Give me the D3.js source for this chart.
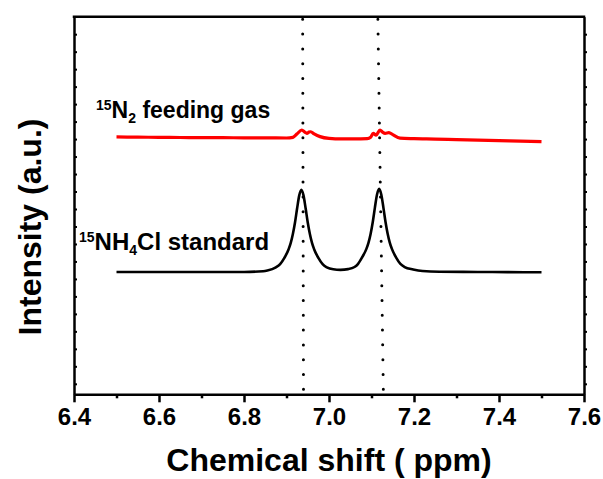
<!DOCTYPE html>
<html>
<head>
<meta charset="utf-8">
<script src="https://cdn.jsdelivr.net/npm/d3@7"></script>
<style>
    body { margin: 0; background: #ffffff; }
    text { font-family: Arial, 'Liberation Sans', sans-serif; font-weight: bold; }
</style>
</head>
<body>
<div id="svg"></div>
<script>
// x axis ticks
var xTicks = [6.4, 6.6, 6.8, 7.0, 7.2, 7.4, 7.6];
var xMinorTicks = [6.5, 6.7, 6.9, 7.1, 7.3, 7.5];

// dotted reference lines (top x, bottom x) in ppm
var refTop = [6.938, 7.115];
var refBottom = [6.940, 7.128];

// 15NH4Cl standard (black)
var blackPpm = [6.50, 6.60, 6.70, 6.80, 6.845, 6.855, 6.875, 6.885, 6.895, 6.905, 6.91, 6.915, 6.92, 6.925, 6.93, 6.935,
    6.94, 6.945, 6.95, 6.955, 6.96, 6.965, 6.975, 6.985, 6.995, 7.01, 7.027, 7.045, 7.06, 7.068, 7.078, 7.088, 7.093,
    7.098, 7.103, 7.108, 7.113, 7.118, 7.123, 7.128, 7.133, 7.138, 7.143, 7.148, 7.158, 7.168, 7.178, 7.198, 7.22,
    7.26, 7.35, 7.42, 7.50];
var blackInt = [6.40, 6.40, 6.40, 6.40, 6.44, 6.48, 6.66, 6.84, 7.20, 7.70, 8.06, 8.57, 9.23, 10.04, 10.78, 11.10,
    10.78, 10.04, 9.23, 8.57, 8.06, 7.70, 7.20, 6.84, 6.66, 6.55, 6.52, 6.56, 6.68, 6.85, 7.24, 7.72, 8.08,
    8.59, 9.26, 10.08, 10.83, 11.15, 10.83, 10.08, 9.26, 8.59, 8.08, 7.72, 7.22, 6.86, 6.68, 6.54, 6.45,
    6.41, 6.40, 6.39, 6.38];

// 15N2 feeding gas (red)
var redPpm = [6.50, 6.55, 6.60, 6.65, 6.70, 6.75, 6.80, 6.85, 6.90, 6.915, 6.925, 6.936, 6.943, 6.948, 6.953, 6.957,
    6.965, 6.979, 7.00, 7.03, 7.06, 7.09, 7.098, 7.104, 7.111, 7.12, 7.126, 7.132, 7.141, 7.15, 7.167, 7.20, 7.25,
    7.30, 7.35, 7.40, 7.45, 7.50];
var redInt = [14.12, 14.11, 14.10, 14.09, 14.08, 14.08, 14.07, 14.07, 14.06, 14.10, 14.30, 14.52, 14.40, 14.33, 14.40, 14.42,
    14.30, 14.14, 14.04, 14.01, 14.01, 14.02, 14.10, 14.33, 14.23, 14.52, 14.40, 14.33, 14.37, 14.25, 14.05, 14.02, 14.00,
    13.97, 13.94, 13.91, 13.88, 13.85];

// y axis (arbitrary units) ticks
var yTicks = d3.range(0, 21);

var width = 603;
var height = 479;
// plot area edges
var pLeft = 74, pRight = 584, pTop = 16.7, pBottom = 394.3;

var x = d3.scaleLinear().domain([6.4, 7.6]).range([pLeft, pRight]);
var y = d3.scaleLinear().domain([-0.6, 21]).range([pBottom, pTop]);

var svg = d3.select('#svg').append('svg')
    .attr('width', width)
    .attr('height', height);

// dotted reference lines
svg.selectAll('.ref')
    .data(refTop)
    .enter().append('line')
    .attr('x1', function (d) { return x(d); })
    .attr('y1', pTop + 2.6)
    .attr('x2', function (d, i) { return x(refBottom[i]); })
    .attr('y2', pBottom)
    .attr('stroke', 'black')
    .attr('stroke-width', 3)
    .attr('stroke-linecap', 'round')
    .attr('stroke-dasharray', '0,14.8');

var line = d3.line()
    .x(function (d) { return x(d[0]); })
    .y(function (d) { return y(d[1]); })
    .curve(d3.curveMonotoneX);

svg.append('path')
    .attr('d', line(d3.zip(redPpm, redInt)))
    .attr('fill', 'none')
    .attr('stroke', '#ff0000')
    .attr('stroke-width', 3.2);

svg.append('path')
    .attr('d', line(d3.zip(blackPpm, blackInt)))
    .attr('fill', 'none')
    .attr('stroke', 'black')
    .attr('stroke-width', 2.6);

// left and right axes with small ticks
var yAxes = [pLeft, pRight];
for (var i = 0; i < yAxes.length; i++) {
    var g = svg.append('g')
        .attr('transform', 'translate(' + yAxes[i] + ',0)')
        .call(d3.axisRight(y).tickValues(yTicks).tickSize(3).tickSizeOuter(0).tickFormat(''));
    g.select('.domain').attr('stroke-width', 2.5);
    g.selectAll('.tick line').attr('stroke-width', 2);
}

// bottom axis
var xAxis = svg.append('g')
    .attr('transform', 'translate(0,' + pBottom + ')')
    .call(d3.axisBottom(x).tickValues(xTicks).tickSize(8).tickSizeOuter(0).tickFormat(d3.format('.1f')));
var xMinor = svg.append('g')
    .attr('transform', 'translate(0,' + pBottom + ')')
    .call(d3.axisBottom(x).tickValues(xMinorTicks).tickSize(4).tickFormat(''));
xMinor.select('.domain').remove();
xMinor.selectAll('.tick line').attr('stroke-width', 2.5);
xAxis.select('.domain').attr('stroke-width', 2.5);
xAxis.selectAll('.tick line').attr('stroke-width', 2.5);
xAxis.selectAll('.tick text')
    .attr('y', 14)
    .style('font-size', '24px')
    .style('fill', 'black');

// top border
svg.append('line')
    .attr('x1', pLeft - 1.25).attr('y1', pTop)
    .attr('x2', pRight + 1.25).attr('y2', pTop)
    .attr('stroke', 'black')
    .attr('stroke-width', 2.5);

// axis titles
svg.append('text')
    .attr('x', 329)
    .attr('y', 471)
    .style('text-anchor', 'middle')
    .style('font-size', '32px')
    .text('Chemical shift ( ppm)');

svg.append('text')
    .attr('transform', 'translate(41,227) rotate(-90)')
    .style('text-anchor', 'middle')
    .style('font-size', '32px')
    .text('Intensity (a.u.)');

// series labels
var red = svg.append('text')
    .attr('x', 96)
    .attr('y', 118)
    .style('font-size', '23px');
red.append('tspan').style('font-size', '14px').attr('dy', -8).text('15');
red.append('tspan').attr('dy', 8).text('N');
red.append('tspan').style('font-size', '14px').attr('dy', 5).text('2');
red.append('tspan').attr('dy', -5).text(' feeding gas');

var blk = svg.append('text')
    .attr('x', 79)
    .attr('y', 250)
    .style('font-size', '24px');
blk.append('tspan').style('font-size', '14px').attr('dy', -8).text('15');
blk.append('tspan').attr('dy', 8).text('NH');
blk.append('tspan').style('font-size', '14px').attr('dy', 5).text('4');
blk.append('tspan').attr('dy', -5).text('Cl standard');
</script>
</body>
</html>
